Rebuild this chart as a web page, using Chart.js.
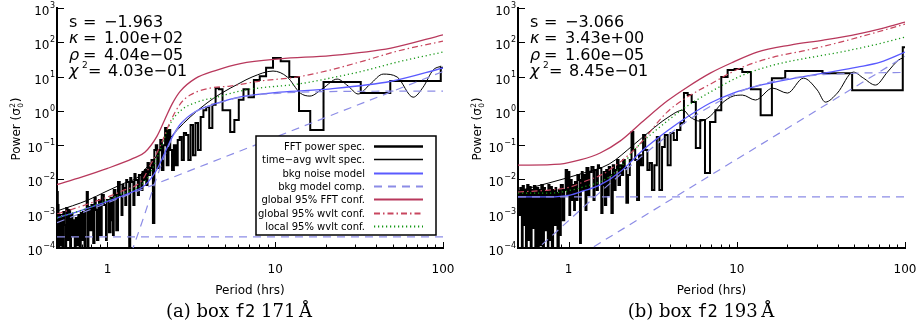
<!DOCTYPE html>
<html>
<head>
<meta charset="utf-8">
<title>Power spectra, box f2</title>
<script src="https://cdn.jsdelivr.net/npm/chart.js@4.4.0/dist/chart.umd.min.js"></script>
<style>
  body { margin: 0; background: #fff; }
  #page { position: relative; width: 923px; height: 329px; overflow: hidden; }
  canvas { position: absolute; top: 0; }
  .caption { position: absolute; top: 301px; width: 300px; text-align: center; font: 18px "DejaVu Serif", serif; line-height: 20px; color: #000; white-space: nowrap; }
  .caption tt { font-family: "DejaVu Sans Mono", monospace; font-size: 17px; }
</style>
</head>
<body>
<div id="page">
  <canvas id="panelA" width="461" height="329" style="left:0"></canvas>
  <canvas id="panelB" width="462" height="329" style="left:461px"></canvas>
  <div class="caption" style="left:89px">(a) box <tt>f2</tt> 171&#8201;Å</div>
  <div class="caption" style="left:551px">(b) box <tt>f2</tt> 193&#8201;Å</div>
</div>
<script>
// FFT bins: bin k covers periods recordHrs/(k+1) .. recordHrs/k, k = 0 is the bin past the record length
const recordHrs = 97;

const fftPowerA = [
  18, 7.4, 3.3, 6.9, 6.9, 0.275, 0.99, 9.7, 28, 35,
  18, 10.3, 7.9, 2.5, 4.3, 2.1, 0.54, 0.24, 1.05, 1.05,
  4.3, 4.6, 1.5, 0.315, 1.3, 1.05, 0.66, 0.072, 0.44, 0.051,
  0.385, 0.037, 0.197, 0.225, 0.037, 0.172, 0.141, 0.026, 0.10, 0.0188,
  0.072, 0.275, 0.026, 0.315, 0.10, 0.0188, 0.141, 0.072, 0.0215, 0.10,
  0.072, 0.00054, 0.037, 0.0215, 0.0134, 0.030, 0.0069, 0.0188, 0.0096, 0.0164,
  0.0049, 0.0134, 0.0134, 0.0035, 0.0096, 0.0096, 0.0144, 0.0018, 0.0084, 0.0084,
  0.011, 5e-5, 0.0084, 0.0084, 0.0096, 0.0018, 0.0049, 0.0056, 0.0069, 0.00092,
  0.0035, 0.0035, 0.0084, 0.0084, 0.00033, 0.00033, 0.0035, 0.0049, 0.0049, 0.00024,
  0.00065, 0.0029, 0.0029, 0.00029, 0.00029, 0.0025, 0.0025, 0.0025, 0.00017, 0.0018,
  0.0018, 0.0018, 0.0035, 0.0035, 0.0035, 0.00024, 0.00024, 0.0025, 0.0025, 0.0018,
  0.00017, 0.00017, 0.00128, 0.00128, 0.0029, 0.0029, 0.00014, 0.00014, 0.0018, 0.0018,
  0.0018, 0.00033, 0.00033, 0.00157, 0.00157, 0.00157, 5e-5, 0.0043, 0.0043, 0.00128,
  0.00128, 5e-5, 5e-5, 0.00112, 0.00112, 0.00112, 0.00017, 0.00017, 0.00105, 0.00105,
  5e-5, 5e-5, 0.00092, 0.00092, 0.00092, 0.00012, 0.00012, 0.00075, 0.00075, 0.00075,
  5e-5, 5e-5, 0.00065, 0.00065, 0.00065, 0.00022, 0.00022, 0.00098, 0.00098, 0.00098,
  5e-5, 5e-5, 0.00128, 0.00128, 0.00128, 0.00017, 0.00017, 0.00017, 0.00147, 0.00147,
  0.00147, 5e-5, 5e-5, 0.00047, 0.00047, 0.00047, 0.00112, 0.00112, 5e-5, 5e-5,
  0.00075, 0.00075, 0.00075, 0.00012, 0.00012, 0.00092, 0.00092, 0.00092, 5e-5, 5e-5,
  0.0018, 0.0018, 0.0043, 0.0043, 0.0025
];

const fftPowerB = [
  72, 4.0, 12.6, 14.5, 14.5, 9.0, 0.75, 4.3, 13.5, 16.5,
  15.5, 9.7, 1.05, 0.47, 0.0153, 0.54, 0.082, 1.8, 2.9, 3.3,
  0.44, 0.275, 0.141, 0.225, 0.026, 0.197, 0.088, 0.0049, 0.172, 0.026,
  0.0049, 0.030, 0.0188, 0.072, 0.197, 0.026, 0.051, 0.0025, 0.037, 0.072,
  0.24, 0.037, 0.0134, 0.0021, 0.0215, 0.037, 0.0134, 0.026, 0.0069, 0.037,
  0.0188, 0.0049, 0.026, 0.00105, 0.0134, 0.023, 0.0035, 0.0188, 0.0018, 0.0164,
  0.0069, 0.00105, 0.0215, 0.0215, 0.026, 0.0049, 0.0188, 0.0188, 0.0025, 0.023,
  0.023, 0.0164, 0.0164, 0.0035, 0.0215, 0.0215, 0.00128, 0.0134, 0.0134, 0.0049,
  0.0164, 0.0096, 0.00014, 0.0096, 0.0134, 0.0134, 0.0025, 0.0084, 0.0084, 0.00128,
  0.0069, 0.0069, 0.0025, 0.0096, 0.0096, 0.00092, 0.0164, 0.0164, 0.0035, 0.0188,
  0.0188, 0.0049, 0.0049, 0.00065, 0.00065, 0.0069, 0.0069, 0.0069, 0.00024, 0.0049,
  0.0049, 5e-5, 5e-5, 0.0040, 0.0040, 0.0056, 0.00047, 0.00047, 0.0049, 0.0049,
  5e-5, 5e-5, 0.0060, 0.0060, 0.0060, 0.00017, 0.0069, 0.0069, 5e-5, 0.0043,
  0.0043, 0.0043, 0.00033, 0.00033, 0.0056, 0.0056, 5e-5, 5e-5, 0.0069, 0.0069,
  0.0069, 0.00012, 0.00012, 0.0049, 0.0049, 0.0049, 5e-5, 0.0056, 0.0056, 0.0018,
  0.0018, 5e-5, 5e-5, 0.0064, 0.0064, 0.0064, 0.00038, 0.00038, 0.0049, 0.0049,
  0.0049, 5e-5, 5e-5, 0.0060, 0.0060, 0.0060, 0.00017, 0.00017, 0.0069, 0.0069,
  0.0069, 0.0025, 5e-5, 5e-5, 0.0049, 0.0049, 0.0049, 0.00047, 0.00047, 0.0064,
  0.0064, 0.0064, 5e-5, 5e-5, 0.0035, 0.0035, 0.0056, 0.0056, 0.00092, 0.00092,
  0.0043, 0.0043, 0.0025, 0.0025, 0.0018
];

// panel (a), 171 A
const waveletPerA = [0.5, 0.765, 0.966, 1.22, 1.52, 1.72, 1.92, 2.14, 2.6, 3.11, 3.92, 4.69, 6.17, 7.27, 9.7, 11.8, 14.1, 16.1, 19.3, 23.4, 27.2, 31.2, 36.8, 44, 53.3, 66.4, 76.1, 87.3, 97.5];
const waveletPowA = [1.2e-3, 2.5e-3, 4.3e-3, 7.3e-3, 0.0117, 0.023, 0.042, 0.088, 0.275, 0.66, 1.7, 3.1, 6.5, 9.7, 14.5, 9.7, 3.3, 2.7, 4.6, 8.45, 5.3, 3.1, 6.0, 11.8, 9.7, 2.5, 4.9, 15.5, 20.2];
const modelPerA = [0.5, 0.7, 1.0, 1.42, 1.67, 1.97, 2.2, 2.43, 2.71, 3.33, 4.4, 6.2, 10.7, 21.4, 49, 100];
const modelPowA = [7.6e-4, 1.26e-3, 2.28e-3, 4.4e-3, 6.7e-3, 0.0195, 0.061, 0.172, 0.40, 0.94, 1.62, 2.57, 3.5, 4.4, 7.3, 17.8];
const fftConfA = [7.1e-3, 0.0117, 0.021, 0.041, 0.062, 0.18, 0.57, 1.6, 3.7, 8.7, 15, 24, 33, 41, 68, 165];
const wvGlobalPerA = [0.5, 0.765, 1.22, 1.61, 1.79, 2.06, 2.36, 2.71, 3.11, 4.09, 5.38, 8.12, 13.5, 21.2, 33.4, 53.3, 100];
const wvGlobalA = [9.8e-4, 1.92e-3, 4.6e-3, 9.6e-3, 0.025, 0.094, 0.47, 1.58, 2.88, 4.6, 5.28, 7.4, 9.7, 15.5, 28.3, 55, 108];
const wvLocalPerA = [0.5, 0.765, 1.22, 1.61, 1.79, 2.06, 2.36, 2.71, 3.42, 4.5, 6.17, 7.9, 13.5, 21.2, 33.4, 53.3, 100];
const wvLocalA = [7.5e-4, 1.47e-3, 3.75e-3, 7.3e-3, 0.0144, 0.072, 0.41, 0.99, 1.8, 2.52, 3.78, 4.6, 6.0, 9.0, 14.5, 26.4, 51.8];
const kappaPerA = [1.3, 1.42, 1.67, 1.97, 2.2, 2.43, 2.71, 3.33, 4.4, 6.2, 10.7, 21.4, 49, 100];
const kappaPowA = [3e-5, 1.0e-4, 1.0e-3, 0.0117, 0.051, 0.16, 0.385, 0.92, 1.58, 2.5, 3.3, 3.65, 3.75, 3.78];
const powerLawPerA = [0.5, 100];
const powerLawA = [5.5e-4, 14];
const whitePerA = [0.5, 100];
const whiteA = [2.1e-4, 2.1e-4];

// panel (b), 193 A
const waveletPerB = [0.5, 0.764, 1.22, 1.74, 2.42, 3.05, 3.85, 4.8, 5.28, 6.06, 6.95, 8.19, 9.52, 10.8, 12.9, 16.3, 20, 24.9, 30.1, 33.6, 39.6, 49.3, 56.6, 66.7, 78.6, 91.4, 96.6];
const waveletPowB = [4.6e-3, 7.9e-3, 0.0153, 0.028, 0.10, 0.258, 0.62, 1.05, 0.66, 0.50, 0.70, 1.69, 2.7, 2.88, 2.07, 4.6, 3.3, 9.0, 4.04, 1.8, 3.3, 13.5, 9.0, 5.65, 13.5, 30.3, 34.6];
const modelPerB = [0.5, 0.764, 1.02, 1.22, 1.54, 2.02, 2.77, 3.85, 5.07, 6.95, 9.52, 13.2, 20.8, 32.7, 52.1, 71.4, 100];
const modelPowB = [3.1e-3, 3.1e-3, 3.5e-3, 4.6e-3, 6.9e-3, 0.0164, 0.072, 0.258, 0.66, 1.69, 3.3, 5.28, 8.45, 12.6, 18.9, 26.4, 51.8];
const fftConfPerB = [0.5, 0.889, 1.17, 1.54, 2.02, 2.77, 3.85, 5.07, 6.95, 9.52, 13.2, 20.8, 32.7, 52.1, 74.4, 100];
const fftConfB = [0.026, 0.028, 0.037, 0.059, 0.131, 0.50, 1.93, 4.9, 12.6, 26.4, 51.8, 83, 116, 173, 259, 388];
const wvGlobalPerB = [0.5, 0.764, 1.02, 1.22, 1.6, 2.02, 2.55, 3.85, 5.07, 6.95, 10.5, 16.5, 26.2, 41.3, 64.9, 100];
const wvGlobalB = [4.3e-3, 4.9e-3, 6.0e-3, 8.4e-3, 0.0144, 0.032, 0.088, 0.92, 2.52, 6.0, 17.7, 37, 59, 101, 185, 339];
const wvLocalPerB = [0.5, 0.764, 1.22, 1.74, 2.11, 2.42, 3.85, 5.07, 6.95, 10.5, 16.5, 26.2, 41.3, 64.9, 100];
const wvLocalB = [4.0e-3, 4.0e-3, 6.0e-3, 0.0117, 0.028, 0.067, 0.50, 1.38, 3.53, 10.3, 21.6, 34.6, 51.8, 82.8, 142];
const kappaPerB = [0.6, 0.7, 1, 1.5, 2, 3, 5, 7, 10, 15, 20, 30, 50, 100];
const kappaPowB = [6.8e-5, 1.3e-4, 6.3e-4, 3.8e-3, 0.013, 0.07, 0.48, 1.38, 3.33, 6.5, 8.7, 11, 12.5, 13.2];
const powerLawPerB = [1.2, 100];
const powerLawB = [6.7e-5, 39];
const whitePerB = [0.5, 100];
const whiteB = [3.1e-3, 3.1e-3];

// axes
const decadeValues = [1e-4, 1e-3, 1e-2, 1e-1, 1, 10, 100, 1000];
const decadeExponents = ['−4', '−3', '−2', '−1', '0', '1', '2', '3'];
const periodMajor = [1, 10, 100];
const periodMajorLabels = ['1', '10', '100'];
const periodMinor = [0.6, 0.7, 0.8, 0.9, 2, 3, 4, 5, 6, 7, 8, 9, 20, 30, 40, 50, 60, 70, 80, 90];

// fit parameters printed in the corner
const fitSymbols = ['s', 'κ', 'ρ', 'χ'];
const fitValuesA = ['−1.963', '1.00e+02', '4.04e−05', '4.03e−01'];
const fitValuesB = ['−3.066', '3.43e+00', '1.60e−05', '8.45e−01'];

const legendLabels = ['FFT power spec.', 'time−avg wvlt spec.', 'bkg noise model', 'bkg model comp.',
  'global 95% FFT conf.', 'global 95% wvlt conf.', 'local 95% wvlt conf.'];

const styles = {
  fft:      { color: '#000000', width: 2 },
  wavelet:  { color: '#000000', width: 1 },
  model:    { color: '#5a5aff', width: 1.3 },
  comp:     { color: '#8c8ce6', width: 1.2, dash: [8, 6] },
  fftConf:  { color: '#b8385c', width: 1.3 },
  wvGlobal: { color: '#c8465e', width: 1.2, dash: [6, 3, 1.5, 3] },
  wvLocal:  { color: '#139613', width: 1.3, dash: [1.2, 2.8] }
};
const legendOrder = ['fft', 'wavelet', 'model', 'comp', 'fftConf', 'wvGlobal', 'wvLocal'];

function pts(per, pow) {
  return per.map((p, i) => ({ x: p, y: pow[i] }));
}

// left edge of every bin in ascending period, plus a closing point for the last bin
function fftPoints(pow) {
  const out = [];
  for (let k = pow.length - 1; k >= 0; k--) out.push({ x: recordHrs / (k + 1), y: pow[k] });
  out.push({ x: recordHrs * 2, y: pow[0] });
  return out;
}

function curve(data, st, smooth = true) {
  return {
    data,
    borderColor: st.color,
    borderWidth: st.width,
    borderDash: st.dash || [],
    cubicInterpolationMode: smooth ? 'monotone' : 'default',
    tension: 0,
    pointRadius: 0,
    fill: false
  };
}

function fftSet(pow) {
  return {
    data: fftPoints(pow),
    borderColor: styles.fft.color,
    borderWidth: styles.fft.width,
    stepped: 'before',
    borderJoinStyle: 'miter',
    pointRadius: 0,
    fill: false
  };
}

const decor = {
  id: 'decor',
  afterDraw(chart, args, opts) {
    const { ctx, chartArea: a, scales: { x, y } } = chart;
    ctx.save();

    // ticks point into the plot
    ctx.strokeStyle = '#000';
    ctx.lineWidth = 1;
    ctx.setLineDash([]);
    ctx.beginPath();
    decadeValues.forEach(v => {
      const py = Math.round(y.getPixelForValue(v)) + 0.5;
      ctx.moveTo(a.left, py);
      ctx.lineTo(a.left + 7, py);
    });
    periodMajor.forEach(p => {
      const px = Math.round(x.getPixelForValue(p)) + 0.5;
      ctx.moveTo(px, a.bottom);
      ctx.lineTo(px, a.bottom - 6);
    });
    periodMinor.forEach(p => {
      const px = Math.round(x.getPixelForValue(p)) + 0.5;
      ctx.moveTo(px, a.bottom);
      ctx.lineTo(px, a.bottom - 3.5);
    });
    ctx.stroke();

    // tick labels
    ctx.fillStyle = '#000';
    ctx.textBaseline = 'alphabetic';
    const right = a.left - 2;
    decadeValues.forEach((v, i) => {
      const py = y.getPixelForValue(v);
      ctx.font = '8px "DejaVu Sans"';
      const e = decadeExponents[i];
      const we = ctx.measureText(e).width;
      ctx.textAlign = 'left';
      ctx.fillText(e, right - we, py);
      ctx.font = '12px "DejaVu Sans"';
      ctx.textAlign = 'right';
      ctx.fillText('10', right - we - 0.5, py + 7);
    });
    ctx.font = '12px "DejaVu Sans"';
    ctx.textAlign = 'center';
    periodMajor.forEach((p, i) => ctx.fillText(periodMajorLabels[i], x.getPixelForValue(p), a.bottom + 25));

    // axis titles
    ctx.fillText('Period (hrs)', (a.left + a.right) / 2, a.bottom + 46);
    ctx.save();
    ctx.translate(20, 129);
    ctx.rotate(-Math.PI / 2);
    ctx.textAlign = 'left';
    ctx.font = '12px "DejaVu Sans"';
    const head = 'Power (σ';
    const wHead = ctx.measureText(head).width;
    const wTail = ctx.measureText(')').width;
    const total = wHead + 6 + wTail;
    let tx = -total / 2;
    ctx.fillText(head, tx, 0);
    tx += wHead;
    ctx.font = '7.5px "DejaVu Sans"';
    ctx.fillText('2', tx + 0.5, -5);
    ctx.fillText('0', tx + 0.5, 3);
    ctx.font = '12px "DejaVu Sans"';
    ctx.fillText(')', tx + 6, 0);
    ctx.restore();

    // fit parameters
    const vals = opts.panel === 'a' ? fitValuesA : fitValuesB;
    const base = [27, 43, 59.5, 76];
    ctx.textAlign = 'left';
    fitSymbols.forEach((s, i) => {
      const yb = base[i];
      ctx.font = (i ? 'italic ' : '') + '16px "DejaVu Sans"';
      ctx.fillText(s, a.left + 12, yb);
      let eqX = a.left + 26;
      if (i === 3) {
        ctx.font = '9px "DejaVu Sans"';
        ctx.fillText('2', a.left + 25, yb - 8);
        eqX = a.left + 31;
      }
      ctx.font = '16px "DejaVu Sans"';
      ctx.fillText('=', eqX, yb);
      ctx.fillText(vals[i], a.left + (i === 3 ? 51 : 47), yb);
    });

    // legend box
    if (opts.legend) {
      const L = 256, T = 136, R = 436, B = 235;
      ctx.fillStyle = '#fff';
      ctx.fillRect(L, T, R - L, B - T);
      ctx.strokeStyle = '#000';
      ctx.lineWidth = 1.5;
      ctx.strokeRect(L, T, R - L, B - T);
      ctx.font = '10px "DejaVu Sans"';
      ctx.textAlign = 'right';
      ctx.fillStyle = '#000';
      legendOrder.forEach((key, i) => {
        const yc = Math.round(146 + i * 13.3) + 0.5;
        ctx.fillText(legendLabels[i], 365, yc + 3.5);
        const st = styles[key];
        ctx.strokeStyle = st.color;
        ctx.lineWidth = st.width + 0.6;
        ctx.setLineDash(st.dash || []);
        ctx.beginPath();
        ctx.moveTo(374, yc);
        ctx.lineTo(423, yc);
        ctx.stroke();
      });
      ctx.setLineDash([]);
    }
    ctx.restore();
  }
};

function makePanel(id, datasets, panel, legend) {
  return new Chart(document.getElementById(id), {
    type: 'line',
    data: { datasets },
    options: {
      responsive: false,
      animation: false,
      events: [],
      layout: { padding: { left: 57, right: 18, top: 8, bottom: 81 } },
      plugins: {
        legend: { display: false },
        tooltip: { enabled: false },
        decor: { panel, legend }
      },
      scales: {
        x: {
          type: 'logarithmic', min: 0.5, max: 100,
          ticks: { display: false },
          grid: { display: false, drawTicks: false },
          border: { display: true, color: '#000', width: 2 },
          afterFit: s => { s.height = 0; }
        },
        y: {
          type: 'logarithmic', min: 1e-4, max: 1e3,
          ticks: { display: false },
          grid: { display: false, drawTicks: false },
          border: { display: true, color: '#000', width: 2 },
          afterFit: s => { s.width = 0; }
        }
      }
    },
    plugins: [decor]
  });
}

makePanel('panelA', [
  curve(pts(modelPerA, fftConfA), styles.fftConf),
  curve(pts(wvGlobalPerA, wvGlobalA), styles.wvGlobal),
  curve(pts(wvLocalPerA, wvLocalA), styles.wvLocal),
  curve(pts(powerLawPerA, powerLawA), styles.comp, false),
  curve(pts(whitePerA, whiteA), styles.comp, false),
  curve(pts(kappaPerA, kappaPowA), styles.comp),
  curve(pts(modelPerA, modelPowA), styles.model),
  curve(pts(waveletPerA, waveletPowA), styles.wavelet),
  fftSet(fftPowerA)
], 'a', true);

makePanel('panelB', [
  curve(pts(fftConfPerB, fftConfB), styles.fftConf),
  curve(pts(wvGlobalPerB, wvGlobalB), styles.wvGlobal),
  curve(pts(wvLocalPerB, wvLocalB), styles.wvLocal),
  curve(pts(powerLawPerB, powerLawB), styles.comp, false),
  curve(pts(whitePerB, whiteB), styles.comp, false),
  curve(pts(kappaPerB, kappaPowB), styles.comp),
  curve(pts(modelPerB, modelPowB), styles.model),
  curve(pts(waveletPerB, waveletPowB), styles.wavelet),
  fftSet(fftPowerB)
], 'b', false);
</script>
</body>
</html>
